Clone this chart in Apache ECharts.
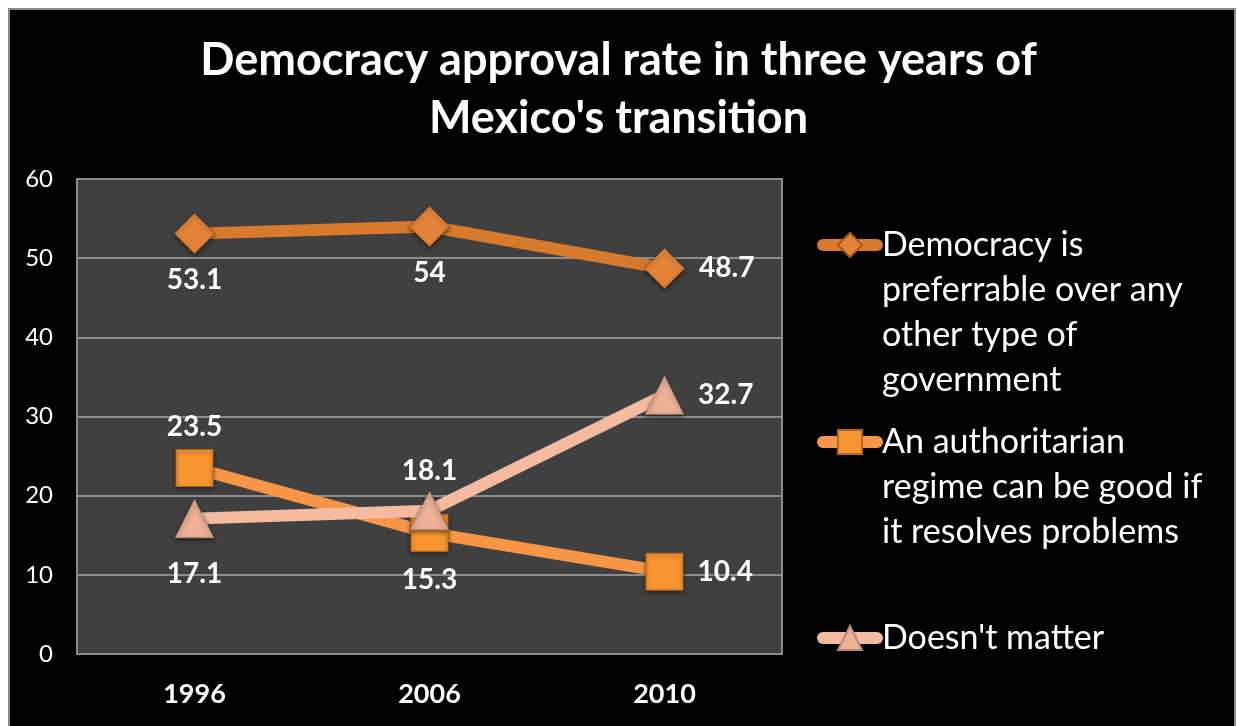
<!DOCTYPE html>
<html>
<head>
<meta charset="utf-8">
<script src="https://cdn.jsdelivr.net/npm/echarts@6/dist/echarts.min.js"></script>
<style>
  html, body { margin: 0; padding: 0; background: #fff; }
  #frame {
    position: absolute; left: 8px; top: 8px; width: 1224px; height: 730px;
    background: #000; border: 2px solid #8c8c8c;
  }
  #chart { position: absolute; left: 0; top: 0; width: 1237px; height: 726px; }
</style>
</head>
<body>
<div id="frame"></div>
<div id="chart"></div>
<script>
// data
const years = ['1996', '2006', '2010'];
const democracyPreferred = [53.1, 54, 48.7];
const authoritarianOk = [23.5, 15.3, 10.4];
const doesntMatter = [17.1, 18.1, 32.7];

const seriesNames = [
  'Democracy is preferrable over any other type of government',
  'An authoritarian regime can be good if it resolves problems',
  "Doesn't matter"
];
// legend text wrapping as in the reference
const legendLines = [
  ['Democracy is', 'preferrable over any', 'other type of', 'government'],
  ['An authoritarian', 'regime can be good if', 'it resolves problems'],
  ["Doesn't matter"]
];

const FONT = 'Lato';

// where each value label sits relative to its point: [position, distance]
const labelPlacement = [
  [['bottom', 12], ['bottom', 12], ['right', 14]],
  [['top', 8], ['bottom', 14], ['right', 14]],
  [['bottom', 22], ['top', 6], ['right', 14]]
];

function withLabels(values, idx) {
  return values.map((v, i) => ({
    value: v,
    label: { position: labelPlacement[idx][i][0], distance: labelPlacement[idx][i][1] }
  }));
}

const styles = [
  { line: '#d77a2e', fill: '#e3843a', border: '#a65a1c', symbol: 'diamond', size: 40 },
  { line: '#f79646', fill: '#f79530', border: '#b4661c', symbol: 'rect', size: 37 },
  { line: '#f5bba1', fill: '#eeb197', border: '#b88a76', symbol: 'triangle', size: 38 }
];

const seriesData = [democracyPreferred, authoritarianOk, doesntMatter];

const series = seriesData.map((vals, idx) => ({
  name: seriesNames[idx],
  type: 'line',
  data: withLabels(vals, idx),
  symbol: styles[idx].symbol,
  symbolSize: styles[idx].size,
  z: idx === 1 ? 2 : 3,
  lineStyle: { color: styles[idx].line, width: 12, cap: 'round' },
  itemStyle: {
    color: styles[idx].fill,
    borderColor: styles[idx].border,
    borderWidth: 1,
    shadowColor: 'rgba(0,0,0,0.5)',
    shadowBlur: 4,
    shadowOffsetY: 2
  },
  label: {
    show: true,
    color: '#fff',
    fontFamily: FONT,
    fontWeight: 'bold',
    fontSize: 28
  },
  emphasis: { disabled: true },
  animation: false
}));

// legend text is centred on the icon, so blank lines in front put the first
// real line level with the icon; the legend box then starts higher up
const LEGEND_LH = 45;
const legendIconY = [245, 442, 638];
const legends = seriesNames.map((name, idx) => {
  const n = legendLines[idx].length;
  return {
    data: [name],
    left: 817,
    top: legendIconY[idx] - (2 * n - 1) * LEGEND_LH / 2,
    padding: 0,
    itemWidth: 54,
    itemHeight: 30,
    itemGap: 0,
    selectedMode: false,
    formatter: () => new Array(n - 1).fill('').concat(legendLines[idx]).join('\n'),
    textStyle: {
      color: '#fff',
      fontFamily: FONT,
      fontSize: 34,
      lineHeight: LEGEND_LH
    },
    lineStyle: { width: 12, cap: 'round' }
  };
});

const chart = echarts.init(document.getElementById('chart'), null, { renderer: 'canvas' });
chart.setOption({
  backgroundColor: 'transparent',
  animation: false,
  title: {
    text: 'Democracy approval rate in three years of\nMexico\'s transition',
    left: 'center',
    top: 31,
    padding: 0,
    textStyle: {
      color: '#fff',
      fontFamily: FONT,
      fontWeight: 'bold',
      fontSize: 45,
      lineHeight: 58
    }
  },
  legend: legends,
  grid: {
    left: 77, top: 179, width: 705, height: 475,
    show: true,
    backgroundColor: '#404040',
    borderColor: '#8c8c8c',
    borderWidth: 2,
    containLabel: false
  },
  xAxis: {
    type: 'category',
    data: years,
    boundaryGap: true,
    axisLine: { show: true, lineStyle: { color: '#8c8c8c', width: 2 } },
    axisTick: { show: false },
    axisLabel: { color: '#fff', fontFamily: FONT, fontWeight: 'bold', fontSize: 27, margin: 27 }
  },
  yAxis: {
    type: 'value',
    min: 0, max: 60, interval: 10,
    axisLine: { show: false },
    axisTick: { show: false },
    splitLine: { lineStyle: { color: '#8c8c8c', width: 2 } },
    axisLabel: { color: '#fff', fontFamily: FONT, fontSize: 24, margin: 24 }
  },
  series: series
});
</script>
</body>
</html>
